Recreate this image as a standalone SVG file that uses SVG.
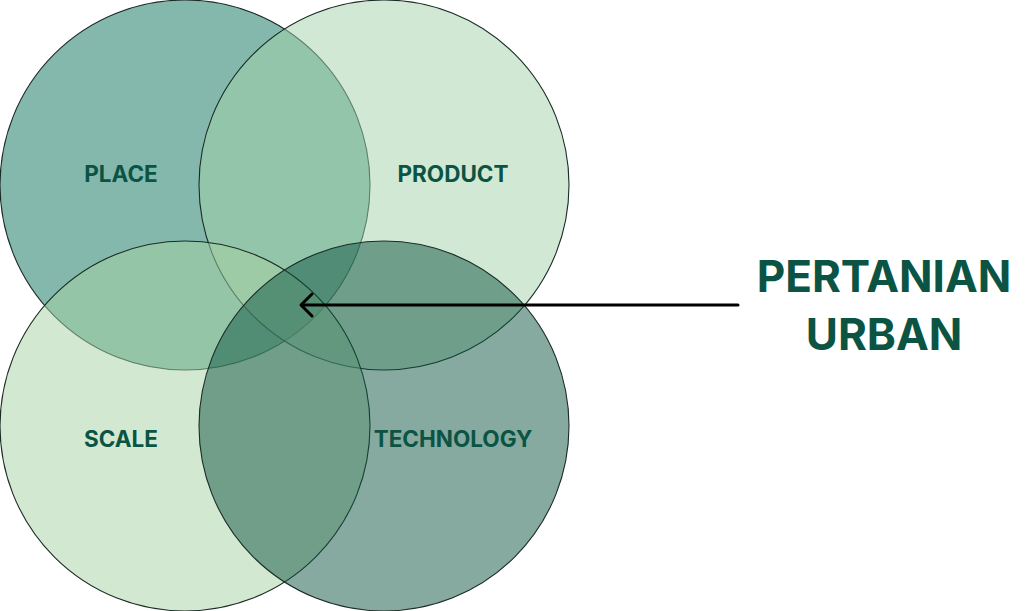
<svg xmlns="http://www.w3.org/2000/svg" width="1031" height="611" viewBox="0 0 1031 611">
<style>
.c{stroke:#1b2b26;stroke-width:1.1;fill-opacity:0.5}
.lbl{font-family:Inter,"Open Sans","Liberation Sans",sans-serif;font-weight:700;fill:#0b5443;font-size:22.5px;text-anchor:middle}
.big{font-family:Inter,"Open Sans","Liberation Sans",sans-serif;font-weight:700;fill:#0b5443;font-size:44px;text-anchor:middle}
</style>
<rect width="1031" height="611" fill="#ffffff"/>
<g id="place"><circle class="c" cx="185" cy="185" r="185" fill="#097159"/></g>
<g id="product"><circle class="c" cx="384" cy="185" r="185" fill="#a1d1a9"/></g>
<g id="scale"><circle class="c" cx="185" cy="426" r="185" fill="#a5d1a1"/></g>
<g id="technology"><circle class="c" cx="384" cy="426" r="185" fill="#0d5341"/></g>
<g id="labels">
<text class="lbl" x="121" y="182">PLACE</text>
<text class="lbl" x="453" y="182">PRODUCT</text>
<text class="lbl" x="121" y="447">SCALE</text>
<text class="lbl" x="453" y="447">TECHNOLOGY</text>
</g>
<g id="pertanian-urban">
<text class="big" x="884" y="292">PERTANIAN</text>
<text class="big" x="884" y="350">URBAN</text>
</g>
<g id="connectors" fill="none" stroke="#000000" stroke-width="3" stroke-linecap="round" stroke-linejoin="round">
<line x1="738" y1="305" x2="303" y2="305"/>
<polyline points="312,294 301,305 312,316"/>
</g>
</svg>
